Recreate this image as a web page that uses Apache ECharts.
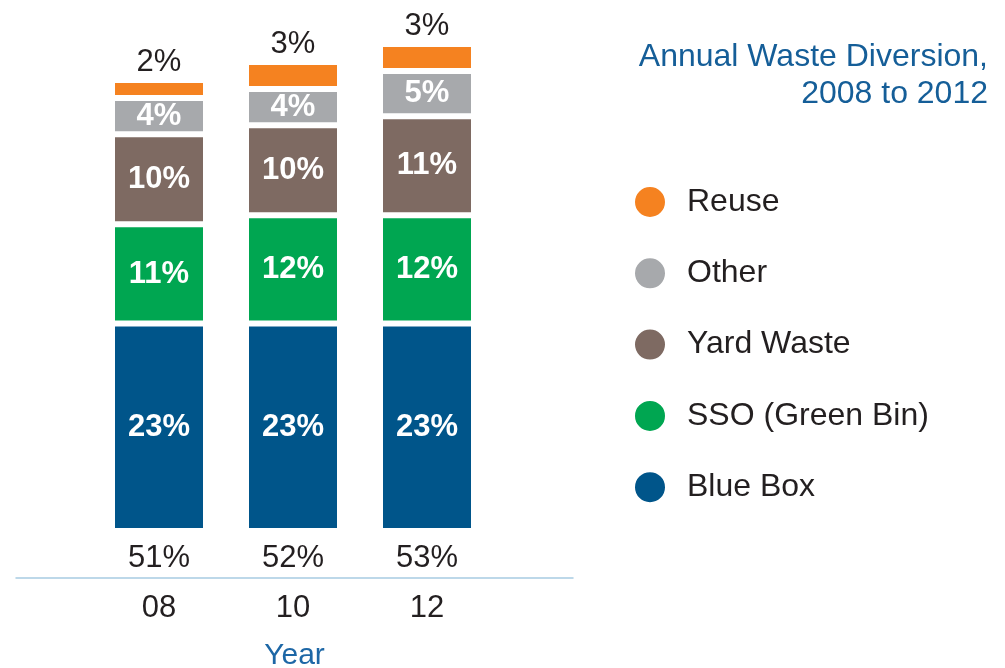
<!DOCTYPE html>
<html>
<head>
<meta charset="utf-8">
<script src="https://cdn.jsdelivr.net/npm/echarts@6/dist/echarts.min.js"></script>
<style>
  html, body { margin: 0; padding: 0; background: #fff; }
  #chart { width: 1005px; height: 668px; }
</style>
</head>
<body>
<div id="chart"></div>
<script>
// Datos del gráfico
const years = ['08', '10', '12'];
const totals = [51, 52, 53];
const blueBox = [23, 23, 23];
const sso = [11, 12, 12];
const yardWaste = [10, 10, 11];
const other = [4, 4, 5];
const reuse = [2, 3, 3];

const FONT = '"Liberation Sans", Arial, sans-serif';
const DARK = '#231F20';

const chart = echarts.init(document.getElementById('chart'));

// Serie apilada; el borde blanco (interior) separa los segmentos
function stackSeries(name, data, color, top) {
    return {
        name: name,
        type: 'bar',
        stack: 'total',
        xAxisIndex: 0,
        yAxisIndex: 0,
        barWidth: 94,
        data: data,
        itemStyle: { color: color, borderColor: '#fff', borderWidth: 3 },
        label: top ? {
            show: true,
            position: 'top',
            distance: 2,
            formatter: p => p.value + '%',
            color: DARK,
            fontSize: 31,
            fontFamily: FONT
        } : {
            show: true,
            position: 'inside',
            formatter: p => p.value + '%',
            color: '#fff',
            fontWeight: 'bold',
            fontSize: 31,
            fontFamily: FONT
        },
        emphasis: { disabled: true }
    };
}

const option = {
    animation: false,
    title: {
        text: 'Annual Waste Diversion,\n2008 to 2012',
        left: 988,
        top: 39,
        textAlign: 'right',
        padding: 0,
        textStyle: {
            color: '#155E98',
            fontSize: 32,
            fontWeight: 'normal',
            fontFamily: FONT,
            lineHeight: 37
        }
    },
    legend: {
        orient: 'vertical',
        left: 628,
        top: 180,
        icon: 'circle',
        itemWidth: 32,
        itemHeight: 32,
        itemGap: 37.3,
        data: ['Reuse', 'Other', 'Yard Waste', 'SSO (Green Bin)', 'Blue Box'],
        textStyle: { color: DARK, fontSize: 32, fontFamily: FONT, padding: [0, 0, 0, 16] },
        selectedMode: false
    },
    grid: [
        { left: 92, right: 511, top: 44, bottom: 137, outerBoundsMode: 'none' },
        { left: 16, right: 432, top: 560, bottom: 90, outerBoundsMode: 'none' }
    ],
    xAxis: [
        {
            gridIndex: 0,
            type: 'category',
            data: years,
            axisLine: { show: false },
            axisTick: { show: false },
            axisLabel: {
                margin: 12,
                formatter: (v, i) => totals[i] + '%',
                color: DARK,
                fontSize: 31,
                fontFamily: FONT
            }
        },
        {
            gridIndex: 1,
            type: 'value',
            min: -1.067,
            max: 3.09,
            splitLine: { show: false },
            axisTick: { show: false },
            axisLine: { show: true, lineStyle: { color: '#A8CCE2', width: 1.5 } },
            axisLabel: {
                customValues: [0, 1, 2],
                margin: 15,
                formatter: v => years[Math.round(v)],
                color: DARK,
                fontSize: 31,
                fontFamily: FONT
            },
            name: 'Year',
            nameLocation: 'middle',
            nameGap: 63,
            nameTextStyle: { color: '#1D67A6', fontSize: 30, fontFamily: FONT }
        }
    ],
    yAxis: [
        { gridIndex: 0, type: 'value', min: 0, max: 54, show: false },
        { gridIndex: 1, type: 'value', min: 0, max: 1, show: false }
    ],
    series: [
        stackSeries('Blue Box', blueBox, '#00558A', false),
        stackSeries('SSO (Green Bin)', sso, '#00A651', false),
        stackSeries('Yard Waste', yardWaste, '#7E6A62', false),
        stackSeries('Other', other, '#A7A9AC', false),
        stackSeries('Reuse', reuse, '#F58220', true)
    ]
};

chart.setOption(option);
</script>
</body>
</html>
